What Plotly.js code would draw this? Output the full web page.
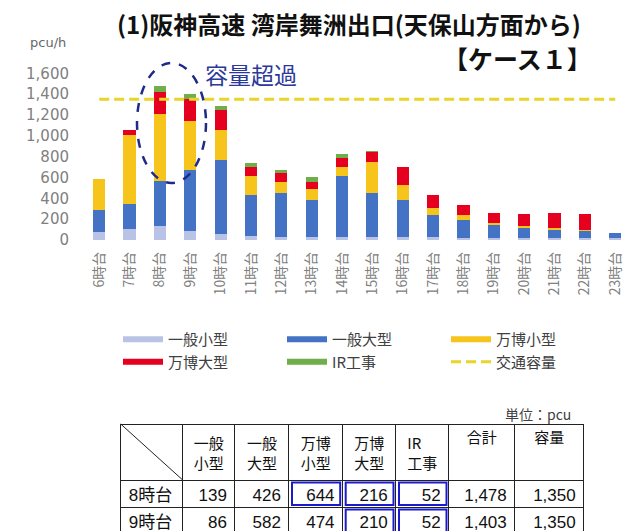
<!DOCTYPE html>
<html>
<head>
<meta charset="utf-8">
<script src="https://cdn.plot.ly/plotly-3.0.1.min.js"></script>
<style>
html,body{margin:0;padding:0;overflow:hidden;background:#fff;}
#wrap{width:628px;height:531px;overflow:hidden;position:relative;}
#chart{width:628px;height:545px;}
</style>
</head>
<body>
<div id="wrap"><div id="chart"></div></div>
<script>
// ---- data ----
const categories = ['6時台','7時台','8時台','9時台','10時台','11時台','12時台','13時台','14時台','15時台','16時台','17時台','18時台','19時台','20時台','21時台','22時台','23時台'];
const ippanSmall = [75, 110, 139, 86, 60, 35, 30, 30, 30, 30, 30, 25, 20, 20, 20, 15, 15, 20];
const ippanLarge = [210, 240, 426, 582, 710, 400, 420, 355, 580, 425, 355, 215, 175, 125, 100, 85, 70, 45];
const expoSmall  = [305, 655, 644, 474, 290, 175, 110, 100, 95, 290, 145, 65, 45, 15, 10, 12, 10, 0];
const expoLarge  = [0, 50, 216, 210, 185, 95, 80, 70, 80, 100, 170, 130, 95, 100, 120, 150, 155, 0];
const irWork     = [0, 5, 52, 52, 45, 30, 30, 45, 40, 10, 5, 0, 0, 0, 0, 0, 0, 0];
const capacity   = [1350, 1350, 1350, 1350, 1350, 1350, 1350, 1350, 1350, 1350, 1350, 1350, 1350, 1350, 1350, 1350, 1350, 1350];
const seriesNames = ['一般小型','一般大型','万博小型','万博大型','IR工事'];
const capacityName = '交通容量';
const yTickVals = [0, 200, 400, 600, 800, 1000, 1200, 1400, 1600];

const tableHeader = ['', '一般<br>小型', '一般<br>大型', '万博<br>小型', '万博<br>大型', 'IR<br>工事', '合計', '容量'];
const tableRowLabels = ['8時台', '9時台'];
const tIppanSmall = [139, 86];
const tIppanLarge = [426, 582];
const tExpoSmall  = [644, 474];
const tExpoLarge  = [216, 210];
const tIrWork     = [52, 52];
const tTotal      = [1478, 1403];
const tCapacity   = [1350, 1350];
const highlighted = [[0,3],[0,4],[0,5],[1,4],[1,5]]; // [row, column]

// ---- styles / layout constants ----
const W = 628, H = 545;
const px = x => x / W;
const py = y => 1 - y / H;
const colors = ['#b9c3e6', '#4472c4', '#f7c41c', '#e4001e', '#6fae4a'];
const capColor = '#e8d52a';
const cjk = '"Noto Sans CJK JP", "Noto Sans", sans-serif';
const colEdges = [120.7, 182.7, 235, 289, 342.7, 396, 449, 515, 584];
const rowEdges = [424, 480, 507, 534];

const series = [ippanSmall, ippanLarge, expoSmall, expoLarge, irWork];
const traces = [];
series.forEach((vals, i) => {
  traces.push({
    type: 'bar', x: categories, y: vals, name: seriesNames[i],
    marker: {color: colors[i]}, showlegend: false, legendgroup: 'g' + i,
    hoverinfo: 'skip'
  });
});
series.forEach((vals, i) => {
  traces.push({
    type: 'scatter', mode: 'lines', x: [null], y: [null], name: seriesNames[i],
    line: {color: colors[i], width: 6}, legendgroup: 'g' + i, showlegend: true, hoverinfo: 'skip'
  });
});
traces.push({
  type: 'scatter', mode: 'lines', x: categories, y: capacity, name: capacityName,
  line: {color: capColor, width: 3, dash: '10px,5px'}, showlegend: true, hoverinfo: 'skip'
});

const widths = [];
for (let i = 1; i < colEdges.length; i++) widths.push(colEdges[i] - colEdges[i-1]);

traces.push({
  type: 'table',
  domain: {x: [px(colEdges[0]), px(colEdges[colEdges.length-1])], y: [0, py(rowEdges[0])]},
  columnwidth: widths,
  header: {
    values: tableHeader,
    align: 'center',
    height: rowEdges[1] - rowEdges[0],
    font: {family: cjk, size: 15, color: '#111'},
    line: {color: '#222', width: 1},
    fill: {color: '#fff'}
  },
  cells: {
    values: [tableRowLabels, tIppanSmall, tIppanLarge, tExpoSmall, tExpoLarge, tIrWork, tTotal, tCapacity],
    format: ['', ',', ',', ',', ',', ',', ',', ','],
    align: ['left', 'right', 'right', 'right', 'right', 'right', 'right', 'right'],
    height: rowEdges[2] - rowEdges[1],
    font: {family: '"Liberation Sans", "Noto Sans CJK JP", sans-serif', size: 17, color: '#111'},
    line: {color: '#222', width: 1},
    fill: {color: '#fff'}
  }
});

const shapes = [
  {type: 'circle', xref: 'paper', yref: 'paper', x0: px(137), x1: px(206), y0: py(183), y1: py(63),
   line: {color: '#1f2a8a', width: 2.5, dash: 'dash'}},
  {type: 'line', xref: 'paper', yref: 'paper', x0: px(colEdges[0]), y0: py(rowEdges[0]), x1: px(colEdges[1]), y1: py(rowEdges[1]),
   line: {color: '#222', width: 1}}
];
highlighted.forEach(([r, c]) => {
  shapes.push({type: 'rect', xref: 'paper', yref: 'paper',
    x0: px(colEdges[c] + 3), x1: px(colEdges[c+1] - 2.5),
    y0: py(rowEdges[r+1] + 2.5), y1: py(rowEdges[r+2] - 2),
    line: {color: '#1a1ad0', width: 2}});
});

const layout = {
  width: W, height: H,
  margin: {l: 0, r: 0, t: 0, b: 0},
  paper_bgcolor: '#fff', plot_bgcolor: '#fff',
  barmode: 'stack', bargap: 0.6,
  showlegend: true,
  title: {text: '(1)阪神高速 湾岸舞洲出口(天保山方面から)', x: px(349), xanchor: 'center', y: py(26), yanchor: 'middle',
          font: {family: cjk, size: 24, weight: 'bold', color: '#111'}},
  xaxis: {domain: [px(84), 1], range: [-0.5, 17.42], type: 'category', showline: false, showgrid: false, zeroline: false,
          ticks: '', tickangle: -90, ticklabelstandoff: 8,
          tickfont: {family: cjk, size: 14, color: '#808080'}},
  yaxis: {domain: [py(240), py(73.3)], range: [0, 1600], tickvals: yTickVals, tickformat: ',', showline: false, showgrid: false,
          zeroline: false, ticks: '', ticklabelstandoff: 14,
          tickfont: {family: '"DejaVu Sans", sans-serif', size: 15, color: '#808080'}},
  legend: {orientation: 'h', x: px(118), xanchor: 'left', y: py(323), yanchor: 'top',
           entrywidth: 109, entrywidthmode: 'pixels', itemwidth: 40, traceorder: 'normal',
           font: {family: cjk, size: 15, color: '#404040'}, bgcolor: 'rgba(0,0,0,0)'},
  shapes: shapes,
  annotations: [
    {text: '【ケース１】', xref: 'paper', yref: 'paper', x: px(594), y: py(58), xanchor: 'right', yanchor: 'middle',
     showarrow: false, font: {family: cjk, size: 25, weight: 'bold', color: '#111'}},
    {text: 'pcu/h', xref: 'paper', yref: 'paper', x: px(48), y: py(42), xanchor: 'center', yanchor: 'middle',
     showarrow: false, font: {family: '"DejaVu Sans", sans-serif', size: 13, color: '#666'}},
    {text: '容量超過', xref: 'paper', yref: 'paper', x: px(251), y: py(74), xanchor: 'center', yanchor: 'middle',
     showarrow: false, font: {family: cjk, size: 23, color: '#2b3a9a'}},
    {text: '単位：pcu', xref: 'paper', yref: 'paper', x: px(573), y: py(414), xanchor: 'right', yanchor: 'middle',
     showarrow: false, font: {family: cjk, size: 14, color: '#404040'}}
  ]
};

Plotly.newPlot('chart', traces, layout, {staticPlot: true, displayModeBar: false});
</script>
</body>
</html>
